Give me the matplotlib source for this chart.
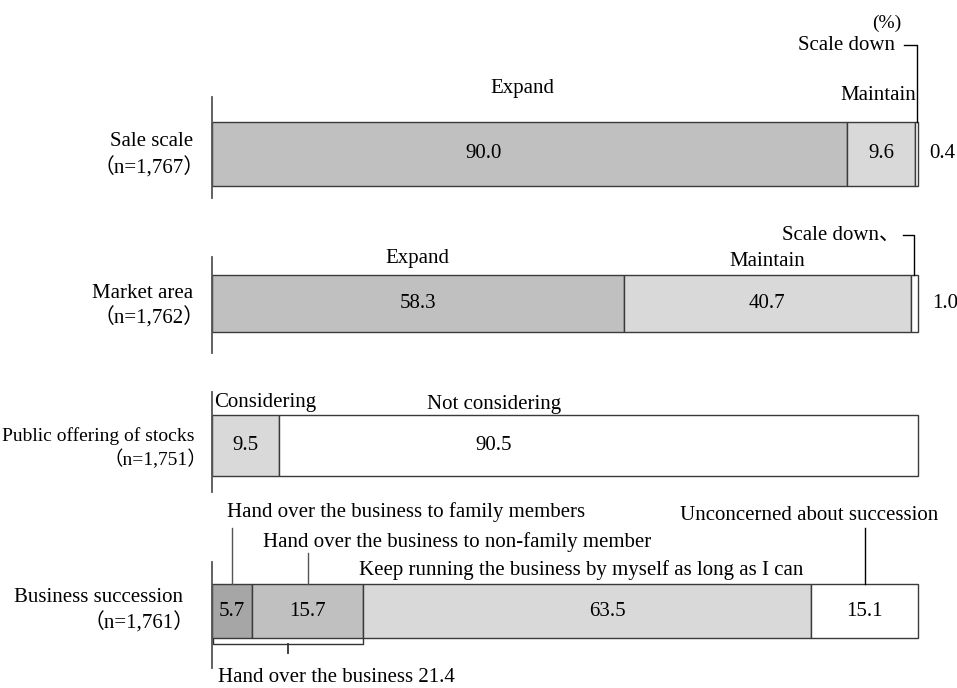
import matplotlib
matplotlib.use("Agg")
import matplotlib.pyplot as plt

plt.rcParams["font.family"] = ["Liberation Serif", "Noto Sans CJK JP", "DejaVu Serif"]

# ---------------------------------------------------------------------------
# Data (%)
# ---------------------------------------------------------------------------
ROW_NAMES = ["Sale scale", "Market area", "Public offering of stocks", "Business succession"]
ROW_NS    = ["\uff08n=1,767\uff09", "\uff08n=1,762\uff09", "\uff08n=1,751\uff09", "\uff08n=1,761\uff09"]

sale_values   = [90.0, 9.6, 0.4]
sale_labels   = ["Expand", "Maintain", "Scale down"]
market_values = [58.3, 40.7, 1.0]
market_labels = ["Expand", "Maintain", "Scale down\u3001"]
stock_values  = [9.5, 90.5]
stock_labels  = ["Considering", "Not considering"]
succ_values   = [5.7, 15.7, 63.5, 15.1]
succ_labels   = ["Hand over the business to family members",
                 "Hand over the business to non-family member",
                 "Keep running the business by myself as long as I can",
                 "Unconcerned about succession"]
handover_total = 21.4

# ---------------------------------------------------------------------------
# Layout: x in percent, y in pixels from the top
# ---------------------------------------------------------------------------
W, H = 957, 688
X0, PX = 212, 7.06          # left edge of bars, pixels per percent
FS = 15

def xp(px):
    return (px - X0) / PX

fig = plt.figure(figsize=(W / 100, H / 100), dpi=100)
ax = fig.add_axes([0, 0, 1, 1])
ax.set_xlim(xp(0), xp(W))
ax.set_ylim(H, 0)
ax.axis("off")

EDGE = "#3a3a3a"

def stacked(values, colors, top, bottom, axis_top, axis_bottom):
    left = 0
    for v, c in zip(values, colors):
        ax.barh((top + bottom) / 2, v, left=left, height=bottom - top,
                color=c, edgecolor=EDGE, linewidth=1.0)
        left += v
    ax.plot([0, 0], [axis_top, axis_bottom], color="#555555", lw=1.3)

def centers(values):
    out, left = [], 0
    for v in values:
        out.append(left + v / 2)
        left += v
    return out

def row_label(i, right_px, y1, y2, fs=FS):
    ax.text(xp(right_px), y1, ROW_NAMES[i], ha="right", va="center", fontsize=fs)
    # full-width parentheses carry trailing space, so nudge the n line right
    ax.text(xp(right_px + 12), y2, ROW_NS[i], ha="right", va="center", fontsize=fs)

ax.text(xp(887), 23, "(%)", ha="center", va="center", fontsize=FS - 1)

# --- Sale scale ------------------------------------------------------------
top, bot = 122, 186
stacked(sale_values, ["#c0c0c0", "#d9d9d9", "white"], top, bot, 97, 198)
row_label(0, 193, 142, 168)
c = centers(sale_values)
yc = (top + bot) / 2
ax.text(c[0] - 6.5, yc, f"{sale_values[0]:.1f}", ha="center", va="center", fontsize=FS)
ax.text(c[1], yc, f"{sale_values[1]:.1f}", ha="center", va="center", fontsize=FS)
ax.text(xp(929), yc, f"{sale_values[2]:.1f}", ha="left", va="center", fontsize=FS)
ax.text(c[0] - 1, 88, sale_labels[0], ha="center", va="center", fontsize=FS)
ax.text(c[1] - 0.5, 95, sale_labels[1], ha="center", va="center", fontsize=FS)
ax.text(xp(895), 45, sale_labels[2], ha="right", va="center", fontsize=FS)
ax.plot([xp(904), c[2], c[2]], [45, 45, top], color="black", lw=1)

# --- Market area -------------------------------------------------------------
top, bot = 275, 332
stacked(market_values, ["#c0c0c0", "#d9d9d9", "white"], top, bot, 257, 353)
row_label(1, 193, 293, 318)
c = centers(market_values)
yc = (top + bot) / 2
ax.text(c[0], yc, f"{market_values[0]:.1f}", ha="center", va="center", fontsize=FS)
ax.text(c[1], yc, f"{market_values[1]:.1f}", ha="center", va="center", fontsize=FS)
ax.text(xp(932), yc, f"{market_values[2]:.1f}", ha="left", va="center", fontsize=FS)
ax.text(c[0], 258, market_labels[0], ha="center", va="center", fontsize=FS)
ax.text(c[1], 262, market_labels[1], ha="center", va="center", fontsize=FS)
ax.text(xp(900), 235, market_labels[2], ha="right", va="center", fontsize=FS)
ax.plot([xp(903), c[2], c[2]], [235, 235, top], color="black", lw=1)

# --- Public offering of stocks --------------------------------------------
top, bot = 415, 476
stacked(stock_values, ["#d9d9d9", "white"], top, bot, 392, 492)
row_label(2, 195, 436, 459, fs=FS - 1)
c = centers(stock_values)
yc = (top + bot) / 2
ax.text(c[0], yc, f"{stock_values[0]:.1f}", ha="center", va="center", fontsize=FS)
ax.text(c[1] - 14.8, yc, f"{stock_values[1]:.1f}", ha="center", va="center", fontsize=FS)
ax.text(xp(214), 403, stock_labels[0], ha="left", va="center", fontsize=FS)
ax.text(c[1] - 14.8, 405, stock_labels[1], ha="center", va="center", fontsize=FS)

# --- Business succession ---------------------------------------------------
top, bot = 584, 638
stacked(succ_values, ["#a6a6a6", "#c0c0c0", "#d9d9d9", "white"], top, bot, 562, 668)
row_label(3, 183, 598, 623)
c = centers(succ_values)
yc = (top + bot) / 2
for i, v in enumerate(succ_values):
    dx = 2.9 if i == 2 else 0
    ax.text(c[i] + dx, yc, f"{v:.1f}", ha="center", va="center", fontsize=FS)

ax.text(xp(227), 512, succ_labels[0], ha="left", va="center", fontsize=FS)
ax.plot([c[0], c[0]], [528, top], color="#555555", lw=1)
ax.text(xp(263), 542, succ_labels[1], ha="left", va="center", fontsize=FS)
ax.plot([c[1], c[1]], [553, top], color="#555555", lw=1)
ax.text(xp(581), 570, succ_labels[2], ha="center", va="center", fontsize=FS)
ax.text(xp(938), 516, succ_labels[3], ha="right", va="center", fontsize=FS)
ax.plot([c[3], c[3]], [528, top], color="black", lw=1)

# bracket under the two "hand over" segments
ax.plot([0.15, 0.15, handover_total, handover_total], [639, 644, 644, 639],
        color="#333333", lw=1)
ax.plot([handover_total / 2] * 2, [644, 653], color="#333333", lw=1.3)
ax.text(xp(218), 678, f"Hand over the business {handover_total:.1f}",
        ha="left", va="center", fontsize=FS)

fig.savefig("out.png", dpi=100)
